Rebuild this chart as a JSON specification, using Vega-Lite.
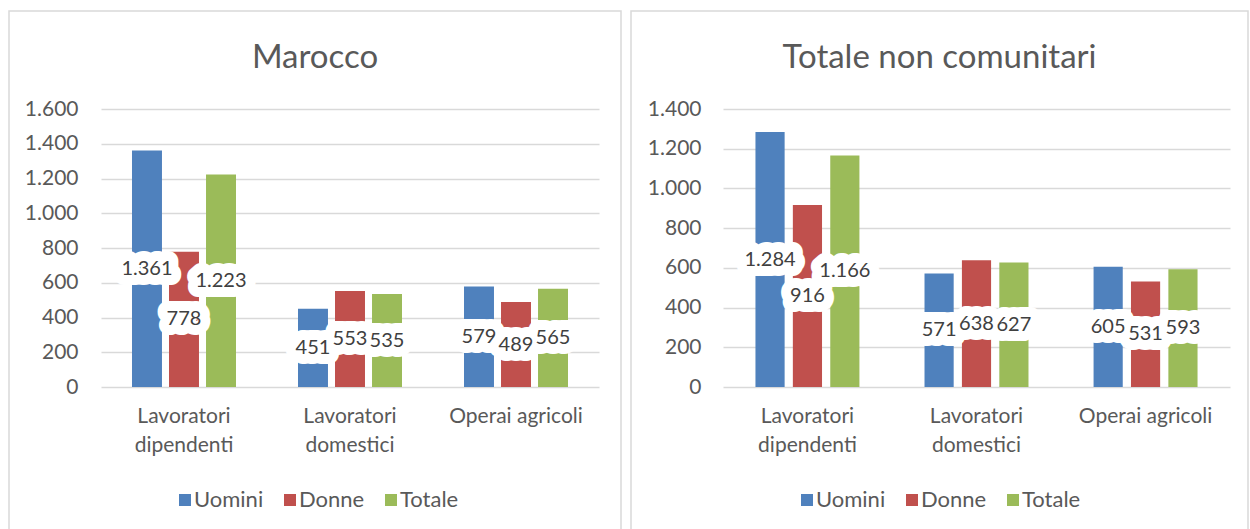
{
  "$schema": "https://vega.github.io/schema/vega-lite/v6.json",
  "autosize": {"type": "pad"},
  "padding": {"left": 8, "top": 10, "right": 0, "bottom": 0},
  "background": "white",
  "config": {
    "font": "Lato",
    "view": {"stroke": "#d9d9d9", "strokeWidth": 1.5},
    "locale": {"number": {"decimal": ",", "thousands": ".", "grouping": [3], "currency": ["€", ""]}},
    "concat": {"spacing": 8},
    "title": {"font": "Lato", "fontSize": 33, "fontWeight": "normal", "color": "#595959", "anchor": "middle", "frame": "group", "baseline": "alphabetic", "offset": -64},
    "axis": {"labelFont": "Lato", "labelColor": "#595959", "labelFontSize": 21, "domain": false, "ticks": false, "tickSize": 0, "gridColor": "#d9d9d9", "gridWidth": 1.6, "title": null}
  },
  "datasets": {
    "marocco": [
      {"cat": "Lavoratori dipendenti", "serie": "Uomini", "value": 1361},
      {"cat": "Lavoratori dipendenti", "serie": "Donne", "value": 778},
      {"cat": "Lavoratori dipendenti", "serie": "Totale", "value": 1223},
      {"cat": "Lavoratori domestici", "serie": "Uomini", "value": 451},
      {"cat": "Lavoratori domestici", "serie": "Donne", "value": 553},
      {"cat": "Lavoratori domestici", "serie": "Totale", "value": 535},
      {"cat": "Operai agricoli", "serie": "Uomini", "value": 579},
      {"cat": "Operai agricoli", "serie": "Donne", "value": 489},
      {"cat": "Operai agricoli", "serie": "Totale", "value": 565}
    ],
    "totale": [
      {"cat": "Lavoratori dipendenti", "serie": "Uomini", "value": 1284},
      {"cat": "Lavoratori dipendenti", "serie": "Donne", "value": 916},
      {"cat": "Lavoratori dipendenti", "serie": "Totale", "value": 1166},
      {"cat": "Lavoratori domestici", "serie": "Uomini", "value": 571},
      {"cat": "Lavoratori domestici", "serie": "Donne", "value": 638},
      {"cat": "Lavoratori domestici", "serie": "Totale", "value": 627},
      {"cat": "Operai agricoli", "serie": "Uomini", "value": 605},
      {"cat": "Operai agricoli", "serie": "Donne", "value": 531},
      {"cat": "Operai agricoli", "serie": "Totale", "value": 593}
    ]
  },
  "resolve": {"scale": {"color": "independent", "x": "independent", "y": "independent", "xOffset": "independent"}, "legend": {"color": "independent"}},
  "hconcat": [
    {
      "width": 612,
      "height": 525,
      "title": {"text": "Marocco"},
      "data": {"name": "marocco"},
      "encoding": {
        "x": {"field": "cat", "type": "nominal", "sort": null,
          "scale": {"range": [92, 590], "paddingInner": 0.3735, "paddingOuter": 0.1867},
          "axis": {"orient": "bottom", "offset": -149, "labelAngle": 0, "labelPadding": 18, "labelLineHeight": 29, "labelLimit": 0, "grid": false,
            "labelExpr": "datum.label == 'Operai agricoli' ? datum.label : split(datum.label, ' ')"}},
        "xOffset": {"field": "serie", "type": "nominal", "sort": ["Uomini", "Donne", "Totale"], "scale": {"paddingInner": 0.19, "paddingOuter": 0}}
      },
      "resolve": {"scale": {"y": "independent"}},
      "layer": [
        {"mark": {"type": "bar"},
          "encoding": {
            "y": {"field": "value", "type": "quantitative",
              "scale": {"domain": [0, 1600], "range": [376, 98], "nice": false, "zero": true},
              "axis": {"orient": "left", "offset": -92, "values": [0, 200, 400, 600, 800, 1000, 1200, 1400, 1600], "format": ",d", "labelPadding": 23, "grid": true}},
            "color": {"field": "serie", "type": "nominal", "sort": ["Uomini", "Donne", "Totale"],
            "scale": {"domain": ["Uomini", "Donne", "Totale"], "range": ["#4F81BD", "#C0504D", "#9BBB59"]},
            "legend": {"orient": "none", "legendX": 165, "legendY": 478, "direction": "horizontal", "title": null, "symbolType": "square", "symbolSize": 144, "symbolStrokeWidth": 0, "symbolOpacity": 1, "labelFont": "Lato", "labelFontSize": 22, "labelColor": "#595959", "columnPadding": 15, "labelOffset": -2}}}},
        {"mark": {"type": "text", "font": "Lato", "fontSize": 20, "fill": "white", "stroke": "white", "strokeWidth": 20, "strokeJoin": "round"},
          "encoding": {
            "y": {"field": "value", "type": "quantitative", "scale": {"domain": [0, 3200], "range": [376, 98], "nice": false}, "axis": null},
            "text": {"field": "value", "type": "quantitative", "format": ",d"}}},
        {"mark": {"type": "text", "font": "Lato", "fontSize": 20, "fill": "#404040"},
          "encoding": {
            "y": {"field": "value", "type": "quantitative", "scale": {"domain": [0, 3200], "range": [376, 98], "nice": false}, "axis": null},
            "text": {"field": "value", "type": "quantitative", "format": ",d"}}}
      ]
    },
    {
      "width": 617,
      "height": 525,
      "title": {"text": "Totale non comunitari"},
      "data": {"name": "totale"},
      "encoding": {
        "x": {"field": "cat", "type": "nominal", "sort": null,
          "scale": {"range": [92, 599], "paddingInner": 0.385, "paddingOuter": 0.192},
          "axis": {"orient": "bottom", "offset": -149, "labelAngle": 0, "labelPadding": 18, "labelLineHeight": 29, "labelLimit": 0, "grid": false,
            "labelExpr": "datum.label == 'Operai agricoli' ? datum.label : split(datum.label, ' ')"}},
        "xOffset": {"field": "serie", "type": "nominal", "sort": ["Uomini", "Donne", "Totale"], "scale": {"paddingInner": 0.22, "paddingOuter": 0}}
      },
      "resolve": {"scale": {"y": "independent"}},
      "layer": [
        {"mark": {"type": "bar"},
          "encoding": {
            "y": {"field": "value", "type": "quantitative",
              "scale": {"domain": [0, 1400], "range": [376, 98], "nice": false, "zero": true},
              "axis": {"orient": "left", "offset": -92, "values": [0, 200, 400, 600, 800, 1000, 1200, 1400], "format": ",d", "labelPadding": 22, "grid": true}},
            "color": {"field": "serie", "type": "nominal", "sort": ["Uomini", "Donne", "Totale"],
            "scale": {"domain": ["Uomini", "Donne", "Totale"], "range": ["#4F81BD", "#C0504D", "#9BBB59"]},
            "legend": {"orient": "none", "legendX": 165, "legendY": 478, "direction": "horizontal", "title": null, "symbolType": "square", "symbolSize": 144, "symbolStrokeWidth": 0, "symbolOpacity": 1, "labelFont": "Lato", "labelFontSize": 22, "labelColor": "#595959", "columnPadding": 15, "labelOffset": -2}}}},
        {"mark": {"type": "text", "font": "Lato", "fontSize": 20, "fill": "white", "stroke": "white", "strokeWidth": 20, "strokeJoin": "round"},
          "encoding": {
            "y": {"field": "value", "type": "quantitative", "scale": {"domain": [0, 2800], "range": [376, 98], "nice": false}, "axis": null},
            "text": {"field": "value", "type": "quantitative", "format": ",d"}}},
        {"mark": {"type": "text", "font": "Lato", "fontSize": 20, "fill": "#404040"},
          "encoding": {
            "y": {"field": "value", "type": "quantitative", "scale": {"domain": [0, 2800], "range": [376, 98], "nice": false}, "axis": null},
            "text": {"field": "value", "type": "quantitative", "format": ",d"}}}
      ]
    }
  ]
}
